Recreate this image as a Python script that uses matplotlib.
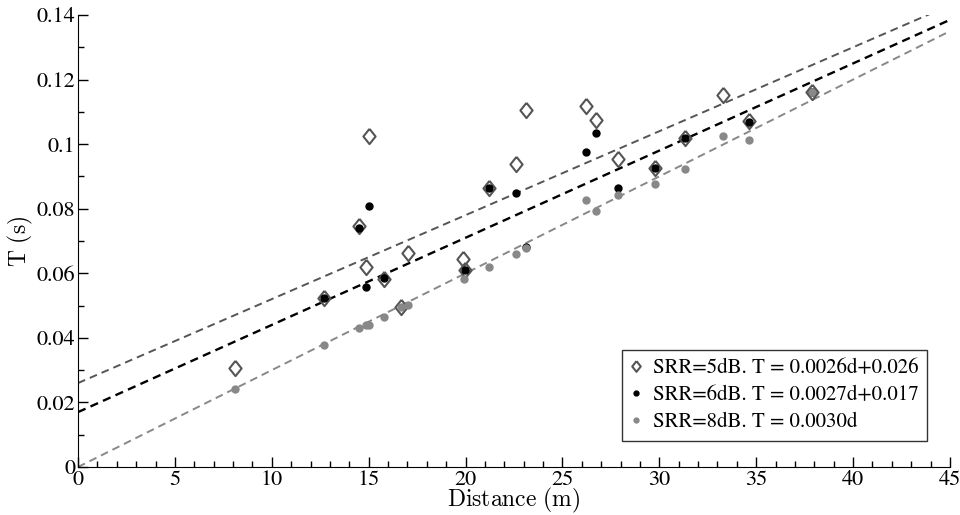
import numpy as np
import matplotlib
matplotlib.use("Agg")
import matplotlib.pyplot as plt
from matplotlib.ticker import MultipleLocator, FuncFormatter

# SRR = 5 dB (diamonds)
d_5db = [8.1, 12.7, 14.52, 14.86, 15.03, 15.8, 16.65, 17.01, 19.88, 19.97, 21.23,
         22.59, 23.14, 26.2, 26.71, 27.85, 29.78, 31.34, 33.28, 34.64, 37.88]
t_5db = [0.0306, 0.0523, 0.0747, 0.0620, 0.1025, 0.0583, 0.0497, 0.0663, 0.0643, 0.0610, 0.0865,
         0.0938, 0.1106, 0.1119, 0.1076, 0.0954, 0.0925, 0.1018, 0.1153, 0.1073, 0.1163]

# SRR = 6 dB (black dots)
d_6db = [12.7, 14.52, 14.86, 15.03, 15.8, 19.97, 21.23, 22.59, 23.14, 26.2,
         26.71, 27.85, 29.78, 31.34, 34.64, 37.88]
t_6db = [0.0523, 0.0740, 0.0557, 0.0808, 0.0584, 0.0610, 0.0865, 0.0848, 0.0682, 0.0977,
         0.1033, 0.0863, 0.0925, 0.1018, 0.1069, 0.1163]

# SRR = 8 dB (gray dots)
d_8db = [8.1, 12.7, 14.52, 14.86, 15.02, 15.8, 16.65, 17.01, 19.9, 21.23, 22.59,
         23.14, 26.2, 26.71, 27.85, 29.78, 31.34, 33.28, 34.64, 37.88]
t_8db = [0.0241, 0.0378, 0.0431, 0.0439, 0.0439, 0.0464, 0.0497, 0.0503, 0.0581, 0.0620, 0.0660,
         0.0677, 0.0826, 0.0793, 0.0843, 0.0876, 0.0922, 0.1026, 0.1014, 0.1163]

# fitted lines: slope, intercept
fit_5db = (0.0026, 0.026)
fit_6db = (0.0027, 0.017)
fit_8db = (0.0030, 0.0)

labels = ["SRR=5dB. T = 0.0026d+0.026",
          "SRR=6dB. T = 0.0027d+0.017",
          "SRR=8dB. T = 0.0030d"]

# STIX ships with matplotlib and looks like Times
plt.rcParams['font.family'] = ['STIXGeneral', 'Liberation Serif', 'DejaVu Serif']
plt.rcParams['mathtext.fontset'] = 'cm'

fig = plt.figure(figsize=(9.6, 5.15), dpi=100)
ax = fig.add_axes([0.08125, 0.0932, 0.9083, 0.8777])

# wider diamond than matplotlib's 'd'
diamond = [(0, 1), (0.8, 0), (0, -1), (-0.8, 0), (0, 1)]

xl = np.array([0, 45])
ax.plot(xl, fit_5db[0] * xl + fit_5db[1], color='#555555', ls=(0, (4, 2.6)), lw=1.4, zorder=1)
ax.plot(xl, fit_6db[0] * xl + fit_6db[1], color='black', ls=(0, (3.5, 2.3)), lw=1.7, zorder=1)
ax.plot(xl, fit_8db[0] * xl + fit_8db[1], color='#888888', ls=(0, (4, 2.6)), lw=1.4, zorder=1)

ax.plot(d_5db, t_5db, ls='none', marker=diamond, markersize=11, markerfacecolor='none',
        markeredgecolor='#555555', markeredgewidth=1.5, label=labels[0], zorder=2)
ax.plot(d_6db, t_6db, ls='none', marker='o', markersize=5, color='black',
        label=labels[1], zorder=3)
ax.plot(d_8db, t_8db, ls='none', marker='o', markersize=5, color='#888888',
        label=labels[2], zorder=4)

ax.set_xlim(0, 45)
ax.set_ylim(0, 0.14)
ax.xaxis.set_major_locator(MultipleLocator(5))
ax.xaxis.set_minor_locator(MultipleLocator(1))
ax.yaxis.set_major_locator(MultipleLocator(0.02))
ax.yaxis.set_minor_locator(MultipleLocator(0.01))
ax.yaxis.set_major_formatter(FuncFormatter(lambda v, p: "%g" % round(v, 2)))
ax.tick_params(which='both', direction='in', labelsize=16, width=1, pad=2)
ax.tick_params(which='major', length=7)
ax.tick_params(which='minor', length=4)
ax.spines['top'].set_visible(False)
ax.spines['right'].set_visible(False)

ax.set_xlabel(r"$\mathrm{Distance\ (m)}$", fontsize=17, labelpad=-2.5)
ax.set_ylabel(r"$\mathrm{T\ (s)}$", fontsize=17, labelpad=1)

leg = ax.legend(loc='lower right', bbox_to_anchor=(0.974, 0.058), fontsize=15,
                frameon=True, fancybox=False, markerscale=0.7, handlelength=0.5,
                handletextpad=0.6, borderpad=0.4, labelspacing=0.35, borderaxespad=0)
leg.get_frame().set_edgecolor('black')
leg.get_frame().set_linewidth(1.0)

fig.savefig("out.png", dpi=100)
